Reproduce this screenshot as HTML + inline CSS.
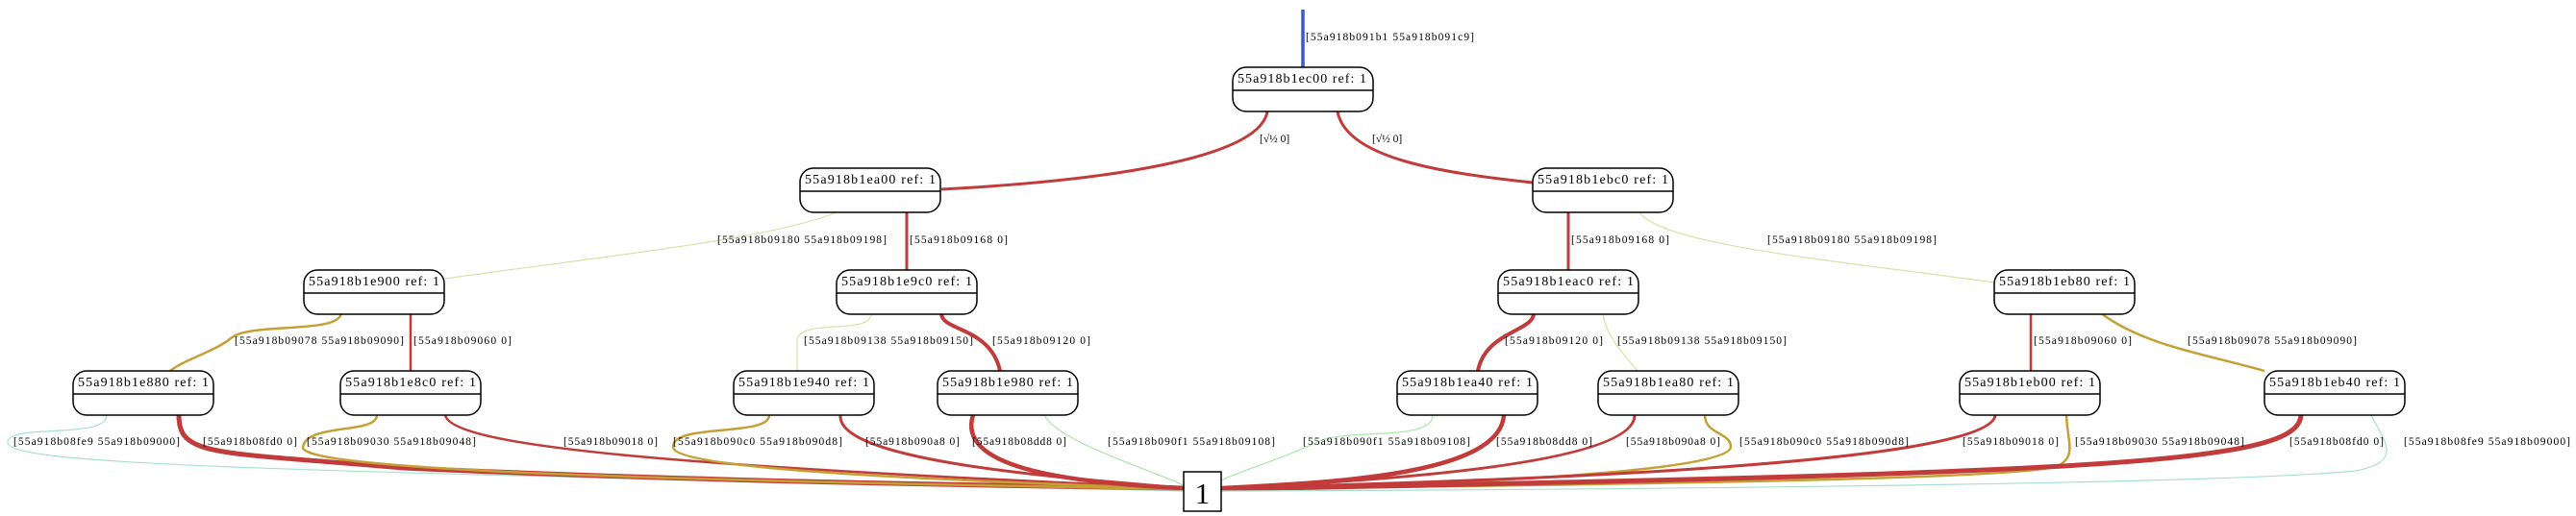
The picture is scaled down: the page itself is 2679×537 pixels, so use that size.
<!DOCTYPE html>
<html><head><meta charset="utf-8"><style>
html,body{margin:0;padding:0;background:#fff;}
svg{display:block;}
.n{font-family:"Liberation Serif",serif;font-size:14px;fill:#000;}
.l{font-family:"Liberation Serif",serif;font-size:11.5px;fill:#000;}
.r{stroke:#c23b3b;fill:none;}
.g{stroke:#c4a035;fill:none;}
.p{stroke:#dde0a8;fill:none;stroke-width:1.2;}
.m{stroke:#a8e0cc;fill:none;stroke-width:1.2;}
.lg{stroke:#a8e6a8;fill:none;stroke-width:1.2;}
</style></head><body>
<svg width="2679" height="537" viewBox="0 0 2679 537" xmlns="http://www.w3.org/2000/svg">
<defs>
<g id="node"><rect x="0" y="0" width="146" height="46" rx="14" ry="14" fill="#fff" stroke="#000" stroke-width="1.5"/><line x1="0" y1="24" x2="146" y2="24" stroke="#000" stroke-width="1.5"/></g>
</defs>
<!-- top edges -->
<line x1="1355" y1="10" x2="1355" y2="70" stroke="#3a5bc7" stroke-width="3.5"/>
<text class="l" x="1358" y="42" textLength="175">[55a918b091b1 55a918b091c9]</text>
<path class="r" stroke-width="3" d="M1318,116 C1310,165 1150,188 979,197"/>
<path class="r" stroke-width="3" d="M1391,116 C1400,165 1500,180 1594,190"/>
<text class="l" x="1310" y="148">[√½ 0]</text>
<text class="l" x="1427" y="148">[√½ 0]</text>
<!-- row1 to row2 -->
<line class="r" stroke-width="3" x1="943" y1="221" x2="943" y2="281"/>
<text class="l" x="946" y="253" textLength="102">[55a918b09168 0]</text>
<path class="p" d="M870,221 C800,250 600,270 463,290"/>
<text class="l" x="746" y="253" textLength="176">[55a918b09180 55a918b09198]</text>
<line class="r" stroke-width="3" x1="1631" y1="221" x2="1631" y2="281"/>
<text class="l" x="1634" y="253" textLength="102">[55a918b09168 0]</text>
<path class="p" d="M1705,221 C1730,255 1900,270 2074,294"/>
<text class="l" x="1838" y="253" textLength="176">[55a918b09180 55a918b09198]</text>
<!-- row2 to row3 -->
<path class="g" stroke-width="2.5" d="M355,326 C352,348 260,335 240,352 C225,365 190,375 177,386"/>
<text class="l" x="244" y="358" textLength="176">[55a918b09078 55a918b09090]</text>
<line class="r" stroke-width="2.5" x1="427" y1="326" x2="427" y2="386"/>
<text class="l" x="430" y="358" textLength="102">[55a918b09060 0]</text>
<path class="p" d="M906,326 C906,350 830,330 829,355 L829,386"/>
<text class="l" x="836" y="358" textLength="176">[55a918b09138 55a918b09150]</text>
<path class="r" stroke-width="4" d="M979,326 C979,345 1030,340 1040,386"/>
<text class="l" x="1032" y="358" textLength="102">[55a918b09120 0]</text>
<path class="r" stroke-width="4" d="M1595,326 C1595,345 1545,345 1537,386"/>
<text class="l" x="1565" y="358" textLength="102">[55a918b09120 0]</text>
<path class="p" d="M1667,326 C1670,350 1690,370 1703,386"/>
<text class="l" x="1682" y="358" textLength="176">[55a918b09138 55a918b09150]</text>
<line class="r" stroke-width="2.5" x1="2112" y1="326" x2="2112" y2="386"/>
<text class="l" x="2115" y="358" textLength="102">[55a918b09060 0]</text>
<path class="g" stroke-width="2.5" d="M2185,326 C2230,360 2300,370 2355,386"/>
<text class="l" x="2275" y="358" textLength="176">[55a918b09078 55a918b09090]</text>
<!-- bottom edges to box 1 -->
<path class="m" d="M111,432 C111,458 10,440 8,460 C5,485 300,490 1231,511"/>
<path class="r" stroke-width="5" d="M186,432 C186,475 220,470 420,487 C700,500 1000,505 1231,508"/>
<path class="g" stroke-width="2.5" d="M392,432 C392,452 320,440 315,465 C310,490 700,500 1231,509"/>
<path class="r" stroke-width="2.5" d="M463,432 C470,465 700,485 1231,508"/>
<path class="g" stroke-width="2.5" d="M800,432 C800,455 700,440 700,465 C700,490 1000,500 1231,509"/>
<path class="r" stroke-width="3" d="M874,432 C870,480 1100,497 1231,508"/>
<path class="r" stroke-width="4.5" d="M1012,432 C995,485 1100,502 1231,508"/>
<path class="lg" d="M1086,432 C1100,460 1200,490 1231,505"/>
<path class="lg" d="M1490,432 C1490,460 1400,445 1370,460 C1340,475 1290,490 1270,500"/>
<path class="r" stroke-width="4.5" d="M1564,432 C1560,492 1400,502 1270,508"/>
<path class="r" stroke-width="3" d="M1700,432 C1700,482 1450,500 1270,508"/>
<path class="g" stroke-width="2.5" d="M1773,432 C1773,452 1800,450 1800,465 C1800,492 1500,505 1270,509"/>
<path class="r" stroke-width="3" d="M2075,432 C2070,482 1600,500 1270,508"/>
<path class="g" stroke-width="2.5" d="M2149,432 C2150,460 2160,475 2140,485 C2100,500 1600,505 1270,509"/>
<path class="r" stroke-width="5" d="M2393,432 C2390,482 2200,492 1270,509"/>
<path class="m" d="M2466,432 C2480,460 2500,480 2450,490 C2300,505 1600,510 1270,511"/>
<!-- bottom labels -->
<text class="l" x="14" y="463" textLength="173">[55a918b08fe9 55a918b09000]</text>
<text class="l" x="211" y="463" textLength="98">[55a918b08fd0 0]</text>
<text class="l" x="319" y="463" textLength="176">[55a918b09030 55a918b09048]</text>
<text class="l" x="586" y="463" textLength="98">[55a918b09018 0]</text>
<text class="l" x="700" y="463" textLength="176">[55a918b090c0 55a918b090d8]</text>
<text class="l" x="900" y="463" textLength="98">[55a918b090a8 0]</text>
<text class="l" x="1011" y="463" textLength="98">[55a918b08dd8 0]</text>
<text class="l" x="1152" y="463" textLength="174">[55a918b090f1 55a918b09108]</text>
<text class="l" x="1355" y="463" textLength="174">[55a918b090f1 55a918b09108]</text>
<text class="l" x="1556" y="463" textLength="100">[55a918b08dd8 0]</text>
<text class="l" x="1691" y="463" textLength="98">[55a918b090a8 0]</text>
<text class="l" x="1809" y="463" textLength="176">[55a918b090c0 55a918b090d8]</text>
<text class="l" x="2041" y="463" textLength="100">[55a918b09018 0]</text>
<text class="l" x="2158" y="463" textLength="176">[55a918b09030 55a918b09048]</text>
<text class="l" x="2381" y="463" textLength="98">[55a918b08fd0 0]</text>
<text class="l" x="2500" y="463" textLength="173">[55a918b08fe9 55a918b09000]</text>
<!-- nodes -->
<use href="#node" x="1282" y="70"/><text class="n" x="1287" y="86" textLength="134">55a918b1ec00 ref: 1</text>
<use href="#node" x="832" y="175"/><text class="n" x="837" y="191" textLength="136">55a918b1ea00 ref: 1</text>
<use href="#node" x="1594" y="175"/><text class="n" x="1599" y="191" textLength="136">55a918b1ebc0 ref: 1</text>
<use href="#node" x="316" y="281"/><text class="n" x="321" y="297" textLength="136">55a918b1e900 ref: 1</text>
<use href="#node" x="870" y="281"/><text class="n" x="875" y="297" textLength="136">55a918b1e9c0 ref: 1</text>
<use href="#node" x="1558" y="281"/><text class="n" x="1563" y="297" textLength="136">55a918b1eac0 ref: 1</text>
<use href="#node" x="2074" y="281"/><text class="n" x="2079" y="297" textLength="136">55a918b1eb80 ref: 1</text>
<use href="#node" x="76" y="386"/><text class="n" x="81" y="402" textLength="136">55a918b1e880 ref: 1</text>
<use href="#node" x="354" y="386"/><text class="n" x="359" y="402" textLength="136">55a918b1e8c0 ref: 1</text>
<use href="#node" x="763" y="386"/><text class="n" x="768" y="402" textLength="136">55a918b1e940 ref: 1</text>
<use href="#node" x="975" y="386"/><text class="n" x="980" y="402" textLength="136">55a918b1e980 ref: 1</text>
<use href="#node" x="1453" y="386"/><text class="n" x="1458" y="402" textLength="136">55a918b1ea40 ref: 1</text>
<use href="#node" x="1662" y="386"/><text class="n" x="1667" y="402" textLength="136">55a918b1ea80 ref: 1</text>
<use href="#node" x="2038" y="386"/><text class="n" x="2043" y="402" textLength="136">55a918b1eb00 ref: 1</text>
<use href="#node" x="2355" y="386"/><text class="n" x="2360" y="402" textLength="136">55a918b1eb40 ref: 1</text>
<!-- box 1 -->
<rect x="1231" y="491" width="39" height="41" fill="#fff" stroke="#000" stroke-width="1.5"/>
<text x="1250.5" y="524" text-anchor="middle" font-family="Liberation Serif, serif" font-size="31">1</text>
</svg>
</body></html>
